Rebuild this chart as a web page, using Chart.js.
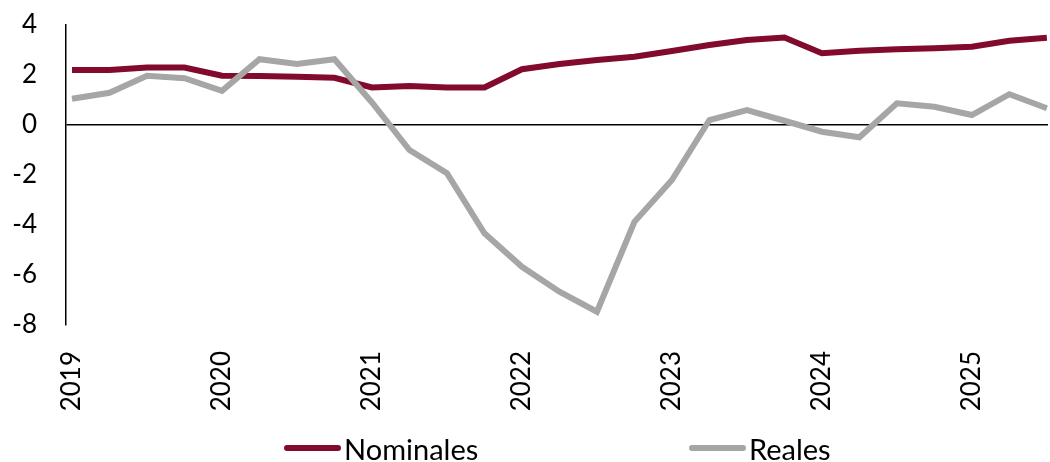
<!DOCTYPE html>
<html>
<head>
<meta charset="utf-8">
<script src="https://cdn.jsdelivr.net/npm/chart.js@4/dist/chart.umd.min.js"></script>
<style>
  html, body { margin: 0; padding: 0; background: #fff; }
  #wrap { position: relative; width: 1050px; height: 462px; }
  .leg { position: absolute; top: 433px; height: 30px; display: flex; align-items: center;
         font-family: Lato, sans-serif; font-size: 29px; color: #000; }
  .leg span.sw { display: inline-block; width: 57px; height: 6px; border-radius: 3px; margin-right: 3px; }
</style>
</head>
<body>
<div id="wrap">
  <canvas id="chart"></canvas>
  <div class="leg" style="left:284px"><span class="sw" style="background:#820a2c"></span>Nominales</div>
  <div class="leg" style="left:689px"><span class="sw" style="background:#a6a6a6"></span>Reales</div>
</div>
<script>
// Quarterly series, 2019Q1 .. 2025Q3
const quarters = [
  '2019T1', '2019T2', '2019T3', '2019T4',
  '2020T1', '2020T2', '2020T3', '2020T4',
  '2021T1', '2021T2', '2021T3', '2021T4',
  '2022T1', '2022T2', '2022T3', '2022T4',
  '2023T1', '2023T2', '2023T3', '2023T4',
  '2024T1', '2024T2', '2024T3', '2024T4',
  '2025T1', '2025T2', '2025T3'
];
const nominales = [
  2.2, 2.2, 2.3, 2.3,
  1.97, 1.96, 1.93, 1.89,
  1.5, 1.56, 1.5, 1.5,
  2.23, 2.44, 2.6, 2.73,
  2.96, 3.2, 3.4, 3.5,
  2.87, 2.97, 3.03, 3.07,
  3.13, 3.37, 3.49
];
const reales = [
  1.05, 1.29, 1.97, 1.87,
  1.37, 2.63, 2.44, 2.63,
  0.9, -1.0, -1.93, -4.33,
  -5.67, -6.67, -7.47, -3.87,
  -2.2, 0.2, 0.6, 0.17,
  -0.27, -0.49, 0.87, 0.73,
  0.4, 1.23, 0.67
];
const yearLabels = ['2019', '2020', '2021', '2022', '2023', '2024', '2025'];

const toPoints = arr => arr.map((v, i) => ({ x: i, y: v }));
const font = { family: 'Lato, sans-serif', size: 26 };

new Chart(document.getElementById('chart'), {
  type: 'line',
  data: {
    datasets: [
      {
        label: 'Nominales',
        data: toPoints(nominales),
        borderColor: '#820a2c',
        borderWidth: 6,
        pointRadius: 0,
        tension: 0,
        order: 1
      },
      {
        label: 'Reales',
        data: toPoints(reales),
        borderColor: '#a6a6a6',
        borderWidth: 6,
        pointRadius: 0,
        tension: 0,
        order: 0
      }
    ]
  },
  options: {
    responsive: true,
    maintainAspectRatio: false,
    devicePixelRatio: 1,
    animation: false,
    layout: { padding: { top: 25, right: 2, bottom: 37, left: 0 } },
    plugins: { legend: { display: false }, tooltip: { enabled: false } },
    scales: {
      x: {
        type: 'linear',
        min: -0.16,
        max: 26.03,
        afterBuildTicks: scale => {
          scale.ticks = yearLabels.map((_, i) => ({ value: i * 4 }));
        },
        afterFit: scale => { scale.height = 100; },
        ticks: {
          autoSkip: false,
          minRotation: 90,
          maxRotation: 90,
          padding: 18,
          color: '#000',
          font: font,
          callback: value => yearLabels[Math.round(value / 4)]
        },
        grid: { display: false },
        border: { display: false }
      },
      y: {
        min: -8,
        max: 4,
        afterFit: scale => { scale.width = 66; },
        ticks: { stepSize: 2, padding: 3, color: '#000', font: font },
        grid: {
          drawTicks: true,
          tickLength: 26,
          tickColor: 'rgba(0,0,0,0)',
          lineWidth: 1.5,
          color: ctx => (ctx.tick && ctx.tick.value === 0 ? '#000' : 'rgba(0,0,0,0)')
        },
        border: { display: true, color: '#000', width: 1.5 }
      }
    }
  }
});
</script>
</body>
</html>
